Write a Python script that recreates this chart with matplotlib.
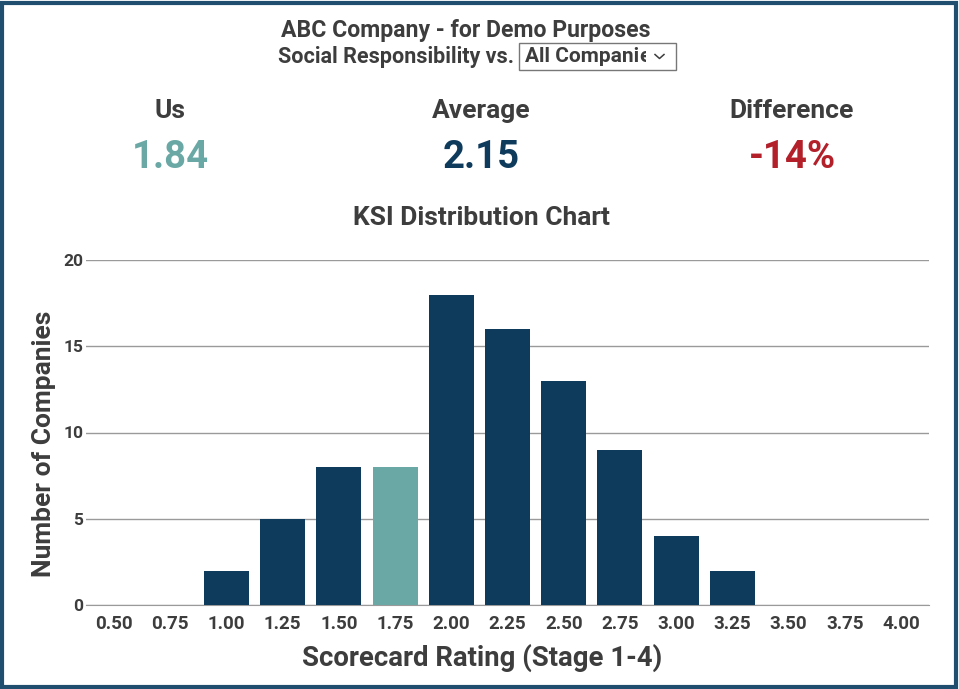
import matplotlib
matplotlib.use("Agg")
import matplotlib.pyplot as plt
import matplotlib.patches as patches
from matplotlib.lines import Line2D

plt.rcParams['font.family'] = ['Roboto', 'DejaVu Sans']

# data
ratings = ['0.50', '0.75', '1.00', '1.25', '1.50', '1.75', '2.00', '2.25',
           '2.50', '2.75', '3.00', '3.25', '3.50', '3.75', '4.00']
counts = [0, 0, 2, 5, 8, 8, 18, 16, 13, 9, 4, 2, 0, 0, 0]
us_bin = '1.75'
us_score = '1.84'
avg_score = '2.15'
difference = '-14%'
y_ticks = [0, 5, 10, 15, 20]

navy = '#0e3a5c'
teal = '#6aa8a5'
red = '#b3202a'
text_grey = '#3d3d3d'

fig = plt.figure(figsize=(9.59, 6.89), dpi=100)
W, H = 959, 689

def fy(py):
    return 1 - py / H

def fx(px):
    return px / W

# outer frame
fig.patches.append(patches.Rectangle((0.002, 0.003), 0.995, 0.993, transform=fig.transFigure,
                                     fill=False, edgecolor='#1f4e6e', linewidth=3))

# header text
fig.text(fx(466), fy(30), 'ABC Company - for Demo Purposes', ha='center', va='center',
         fontsize=16.6, fontweight='bold', color=text_grey)
fig.text(fx(514), fy(57), 'Social Responsibility vs.', ha='right', va='center',
         fontsize=15.5, fontweight='bold', color=text_grey)

# dropdown box
box = patches.Rectangle((fx(519), fy(70)), fx(676) - fx(519), fy(43) - fy(70),
                        transform=fig.transFigure, fill=False,
                        edgecolor='#777777', linewidth=1)
fig.patches.append(box)
dd = fig.text(fx(525), fy(57), 'All Compani', ha='left', va='center',
              fontsize=15, fontweight='bold', color=text_grey)
fig.canvas.draw()
ext = dd.get_window_extent()
clip = patches.Rectangle((fx(519), fy(70)), fx(646) - fx(519), fy(43) - fy(70),
                         transform=fig.transFigure)
tail = fig.text(ext.x1 / W + 0.0005, fy(57), 'e', ha='left', va='center',
                fontsize=15, fontweight='bold', color=text_grey)
tail.set_clip_path(clip)
# chevron
fig.lines.append(Line2D([fx(655), fx(659.5), fx(664)], [fy(54.5), fy(58.5), fy(54.5)],
                        transform=fig.transFigure, color=text_grey, linewidth=1.1))

# summary stats
for xpx, head, val, col in [(170, 'Us', us_score, teal),
                            (481, 'Average', avg_score, navy),
                            (792, 'Difference', difference, red)]:
    fig.text(fx(xpx), fy(111), head, ha='center', va='center',
             fontsize=19, fontweight='bold', color=text_grey)
    fig.text(fx(xpx), fy(158), val, ha='center', va='center',
             fontsize=27.5, fontweight='bold', color=col)

fig.text(fx(481), fy(218), 'KSI Distribution Chart', ha='center', va='center',
         fontsize=19, fontweight='bold', color=text_grey)

# chart
left, right, top, bottom = 86, 929, 260, 605
ax = fig.add_axes([fx(left), fy(bottom), fx(right) - fx(left), fy(top) - fy(bottom)])
colors = [teal if r == us_bin else navy for r in ratings]
ax.bar(range(len(ratings)), counts, width=0.8, color=colors, zorder=3)
ax.set_xlim(-0.5, len(ratings) - 0.5)
ax.set_ylim(0, 20)
ax.set_yticks(y_ticks)
ax.set_xticks(range(len(ratings)))
ax.set_xticklabels(ratings)
ax.grid(axis='y', color='#9a9a9a', linewidth=1, zorder=0)
for s in ['top', 'right', 'left']:
    ax.spines[s].set_visible(False)
ax.spines['bottom'].set_color('#9a9a9a')
ax.tick_params(axis='x', length=0, pad=7, labelsize=13.5, labelcolor=text_grey)
ax.tick_params(axis='y', length=0, pad=2, labelsize=12.5, labelcolor=text_grey)
for lab in ax.get_xticklabels() + ax.get_yticklabels():
    lab.set_fontweight('bold')
ax.set_xlabel('Scorecard Rating (Stage 1-4)', fontsize=19.8, fontweight='bold',
              color=text_grey, va='center')
ax.set_ylabel('Number of Companies', fontsize=19, fontweight='bold',
              color=text_grey, va='center')
ax.xaxis.set_label_coords((482 - left) / (right - left), (bottom - 658) / (bottom - top))
ax.yaxis.set_label_coords((44 - left) / (right - left), (bottom - 444) / (bottom - top))

fig.savefig('out.png', dpi=100)
